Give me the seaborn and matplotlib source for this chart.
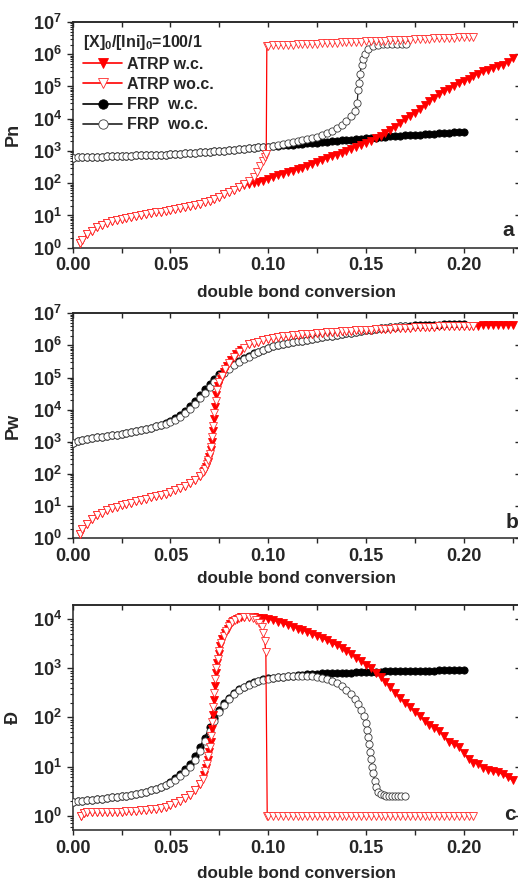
import numpy as np
import pandas as pd
import matplotlib
matplotlib.use("Agg")
import matplotlib.pyplot as plt
import seaborn as sns
from matplotlib.lines import Line2D
from matplotlib.ticker import (MultipleLocator, LogLocator, FuncFormatter,
                               NullFormatter, FixedLocator, NullLocator)

# ---------------- data (y values stored as log10) ----------------
conv = [0.0000, 0.0025, 0.0050, 0.0075, 0.0100, 0.0125, 0.0150, 0.0175, 0.0200, 0.0225,
        0.0250, 0.0275, 0.0300, 0.0325, 0.0350, 0.0375, 0.0400, 0.0425, 0.0450, 0.0475,
        0.0500, 0.0525, 0.0550, 0.0575, 0.0600, 0.0625, 0.0650, 0.0675, 0.0700, 0.0725,
        0.0750, 0.0775, 0.0800, 0.0825, 0.0850, 0.0875, 0.0900, 0.0925, 0.0950, 0.0975,
        0.1000, 0.1025, 0.1050, 0.1075, 0.1100, 0.1125, 0.1150, 0.1175, 0.1200, 0.1225,
        0.1250, 0.1275, 0.1300, 0.1325, 0.1350, 0.1375, 0.1400, 0.1425, 0.1450, 0.1475,
        0.1500, 0.1525, 0.1550, 0.1575, 0.1600, 0.1625, 0.1650, 0.1675, 0.1700, 0.1725,
        0.1750, 0.1775, 0.1800, 0.1825, 0.1850, 0.1875, 0.1900, 0.1925, 0.1950, 0.1975,
        0.2000, 0.2025, 0.2050, 0.2075, 0.2100, 0.2125, 0.2150, 0.2175, 0.2200, 0.2225,
        0.2250]

# ---- panel a : Pn ----
pn_frp_wc_log = [2.79, 2.80, 2.80, 2.81, 2.81, 2.82, 2.82, 2.83, 2.83, 2.84,
                 2.84, 2.85, 2.85, 2.86, 2.86, 2.87, 2.87, 2.88, 2.88, 2.89,
                 2.90, 2.91, 2.92, 2.93, 2.94, 2.95, 2.96, 2.97, 2.98, 2.99,
                 3.00, 3.01, 3.03, 3.04, 3.05, 3.07, 3.08, 3.09, 3.11, 3.12,
                 3.13, 3.15, 3.16, 3.17, 3.19, 3.20, 3.21, 3.22, 3.24, 3.25,
                 3.26, 3.28, 3.29, 3.30, 3.31, 3.33, 3.34, 3.35, 3.36, 3.38,
                 3.39, 3.40, 3.41, 3.43, 3.44, 3.45, 3.46, 3.47, 3.48, 3.49,
                 3.50, 3.51, 3.52, 3.53, 3.54, 3.55, 3.56, 3.57, 3.58, 3.59,
                 3.60]
pn_frp_woc_log = [2.79, 2.80, 2.80, 2.81, 2.81, 2.82, 2.82, 2.83, 2.83, 2.84,
                  2.84, 2.85, 2.85, 2.86, 2.86, 2.87, 2.87, 2.88, 2.88, 2.89,
                  2.90, 2.91, 2.92, 2.93, 2.94, 2.95, 2.96, 2.97, 2.98, 2.99,
                  3.00, 3.01, 3.03, 3.04, 3.05, 3.07, 3.08, 3.09, 3.11, 3.12,
                  3.13, 3.16, 3.18, 3.21, 3.24, 3.27, 3.30, 3.33, 3.36, 3.40,
                  3.44, 3.49, 3.55, 3.62, 3.70, 3.80, 3.92, 4.08]
pn_frp_woc_tail_x = [0.1445, 0.1455, 0.1460, 0.1464, 0.1469, 0.1478, 0.1487, 0.1496, 0.1512,
                     0.1535, 0.1560, 0.1585, 0.1610, 0.1635, 0.1660, 0.1685, 0.1705]
pn_frp_woc_tail_log = [4.25, 4.50, 4.88, 5.10, 5.40, 5.66, 5.86, 6.02, 6.16,
                       6.25, 6.29, 6.31, 6.32, 6.32, 6.33, 6.33, 6.33]
pn_atrp_woc_rise_x = [0.0037, 0.0050, 0.0075, 0.0100, 0.0125, 0.0150, 0.0175, 0.0200, 0.0225,
                      0.0250, 0.0275, 0.0300, 0.0325, 0.0350, 0.0375, 0.0400, 0.0425, 0.0450,
                      0.0475, 0.0500, 0.0525, 0.0550, 0.0575, 0.0600, 0.0625, 0.0650, 0.0675,
                      0.0700, 0.0725, 0.0750, 0.0775, 0.0800, 0.0825, 0.0850, 0.0875, 0.0900,
                      0.0925, 0.0945, 0.0960, 0.0972, 0.0982, 0.0990, 0.0993]
pn_atrp_woc_rise_log = [0.14, 0.25, 0.42, 0.53, 0.63, 0.71, 0.78, 0.83, 0.87,
                        0.90, 0.93, 0.96, 0.98, 1.01, 1.04, 1.07, 1.10, 1.12,
                        1.15, 1.17, 1.20, 1.23, 1.26, 1.29, 1.33, 1.37, 1.41,
                        1.46, 1.52, 1.58, 1.65, 1.72, 1.80, 1.88, 1.97, 2.07,
                        2.20, 2.35, 2.52, 2.68, 2.82, 2.92, 6.26]
pn_atrp_woc_plateau_log = [6.27, 6.28, 6.28, 6.29, 6.30, 6.30, 6.31, 6.31, 6.32, 6.33,
                           6.33, 6.34, 6.35, 6.35, 6.36, 6.37, 6.37, 6.38, 6.38, 6.39,
                           6.40, 6.40, 6.41, 6.42, 6.42, 6.43, 6.44, 6.44, 6.45, 6.45,
                           6.46, 6.47, 6.47, 6.48, 6.49, 6.49, 6.50, 6.51, 6.51, 6.52,
                           6.53, 6.53, 6.54]          # x = conv[40:83]
pn_atrp_wc_log = [0.14, 0.25, 0.42, 0.53, 0.63, 0.71, 0.78, 0.83, 0.87, 0.90,
                  0.93, 0.96, 0.98, 1.01, 1.04, 1.07, 1.10, 1.12, 1.15, 1.17,
                  1.20, 1.23, 1.26, 1.29, 1.33, 1.37, 1.41, 1.46, 1.52, 1.58,
                  1.65, 1.72, 1.80, 1.88,
                  1.93, 1.97, 2.00, 2.03, 2.08, 2.13, 2.19, 2.25, 2.29, 2.34,
                  2.38, 2.43, 2.48, 2.53, 2.59, 2.65, 2.71, 2.77, 2.83, 2.89,
                  2.95, 3.01, 3.07, 3.13, 3.19, 3.26, 3.32, 3.39, 3.47, 3.56,
                  3.66, 3.75, 3.86, 3.98, 4.09, 4.18, 4.31, 4.42, 4.55, 4.65,
                  4.77, 4.87, 4.92, 5.02, 5.10, 5.16, 5.24, 5.33, 5.40, 5.47,
                  5.52, 5.58, 5.64, 5.68, 5.76, 5.88]   # x = 0.0037, conv[2:91]

# ---- panel b : Pw ----
pw_frp_wc_log = [2.96, 3.02, 3.06, 3.09, 3.12, 3.14, 3.16, 3.18, 3.20, 3.22,
                 3.25, 3.27, 3.30, 3.33, 3.36, 3.40, 3.44, 3.49, 3.54, 3.60,
                 3.66, 3.74, 3.84, 3.97, 4.12, 4.28, 4.45, 4.63, 4.80, 4.96,
                 5.10, 5.22, 5.33, 5.43, 5.52, 5.60, 5.68, 5.75, 5.81, 5.87,
                 5.92, 5.97, 6.01, 6.04, 6.07, 6.10, 6.13, 6.15, 6.18, 6.20,
                 6.23, 6.25, 6.28, 6.30, 6.33, 6.35, 6.38, 6.40, 6.43, 6.45,
                 6.47, 6.49, 6.51, 6.53, 6.55, 6.56, 6.58, 6.60, 6.62, 6.62,
                 6.63, 6.63, 6.64, 6.64, 6.65, 6.65, 6.66, 6.66, 6.67, 6.67,
                 6.68]
pw_frp_woc_log = [2.96, 3.02, 3.06, 3.09, 3.12, 3.14, 3.16, 3.18, 3.20, 3.22,
                  3.25, 3.27, 3.30, 3.33, 3.36, 3.39, 3.43, 3.48, 3.52, 3.57,
                  3.62, 3.69, 3.78, 3.90, 4.03, 4.18, 4.35, 4.52, 4.70, 4.87,
                  5.02, 5.15, 5.27, 5.38, 5.48, 5.57, 5.65, 5.73, 5.80, 5.86,
                  5.92, 5.97, 6.01, 6.04, 6.07, 6.10, 6.13, 6.15, 6.18, 6.20,
                  6.23, 6.25, 6.28, 6.30, 6.33, 6.35, 6.38, 6.40, 6.43, 6.45,
                  6.47, 6.49, 6.51, 6.53, 6.55, 6.56, 6.58, 6.60, 6.62]
pw_atrp_head_log = [0.12, 0.28, 0.46, 0.60, 0.71, 0.80, 0.87, 0.93, 0.98, 1.03,
                    1.07, 1.11, 1.15, 1.19, 1.23, 1.27, 1.31, 1.35, 1.39, 1.44,
                    1.49, 1.55, 1.63, 1.72, 1.82, 1.95]      # x = 0.0037, conv[2:27]
pw_atrp_woc_steep_x = [0.0665, 0.0677, 0.0686, 0.0694, 0.0702, 0.0709, 0.0715, 0.0720, 0.0725,
                       0.0731, 0.0739, 0.0750, 0.0764, 0.0781, 0.0800, 0.0825, 0.0850, 0.0875]
pw_atrp_woc_steep_log = [2.05, 2.17, 2.30, 2.45, 2.62, 2.85, 3.15, 3.50, 3.90,
                         4.28, 4.62, 4.85, 5.05, 5.27, 5.45, 5.65, 5.80, 5.92]
pw_atrp_wc_steep_x = [0.0670, 0.0682, 0.0690, 0.0698, 0.0706, 0.0712, 0.0718, 0.0722, 0.0728,
                      0.0735, 0.0744, 0.0757, 0.0772, 0.0790, 0.0812, 0.0837, 0.0862]
pw_atrp_wc_steep_log = [2.10, 2.23, 2.37, 2.53, 2.74, 3.00, 3.33, 3.70, 4.10,
                        4.45, 4.74, 4.96, 5.16, 5.36, 5.55, 5.73, 5.86]
pw_atrp_woc_tail_log = [6.03, 6.08, 6.12, 6.16, 6.20, 6.23, 6.26, 6.28, 6.30, 6.32,
                        6.33, 6.35, 6.36, 6.37, 6.38, 6.40, 6.41, 6.42, 6.43, 6.44,
                        6.45, 6.46, 6.47, 6.48, 6.48, 6.49, 6.50, 6.51, 6.52, 6.52,
                        6.53, 6.54, 6.55, 6.55, 6.56, 6.57, 6.57, 6.58, 6.58, 6.59,
                        6.59, 6.60, 6.60, 6.61, 6.61, 6.62, 6.62]   # x = conv[36:83]
pw_atrp_wc_tail_log = [6.03, 6.08, 6.12, 6.16, 6.20, 6.23, 6.26, 6.28, 6.30, 6.32,
                       6.33, 6.35, 6.36, 6.37, 6.38, 6.40, 6.41, 6.42, 6.43, 6.44,
                       6.45, 6.46, 6.47, 6.48, 6.48, 6.49, 6.50, 6.51, 6.52, 6.52,
                       6.53, 6.54, 6.55, 6.55, 6.56, 6.57, 6.57, 6.58, 6.58, 6.59,
                       6.59, 6.60, 6.60, 6.61, 6.61, 6.62, 6.62, 6.62, 6.63, 6.63,
                       6.63, 6.64, 6.64, 6.64, 6.64]                # x = conv[36:91]

# ---- panel c : dispersity ----
d_frp_wc_log = [0.27, 0.29, 0.30, 0.31, 0.32, 0.33, 0.34, 0.35, 0.37, 0.38,
                0.40, 0.41, 0.43, 0.45, 0.47, 0.49, 0.52, 0.55, 0.59, 0.63,
                0.69, 0.76, 0.84, 0.94, 1.06, 1.21, 1.39, 1.59, 1.80, 1.98,
                2.15, 2.29, 2.40, 2.50, 2.57, 2.63, 2.68, 2.72, 2.75, 2.78,
                2.80, 2.81, 2.82, 2.83, 2.84, 2.85, 2.86, 2.87, 2.88, 2.885,
                2.89, 2.895, 2.90, 2.90, 2.905, 2.91, 2.91, 2.915, 2.92, 2.92,
                2.925, 2.93, 2.93, 2.935, 2.94, 2.94, 2.94, 2.945, 2.945, 2.95,
                2.95, 2.95, 2.955, 2.955, 2.955, 2.96, 2.96, 2.96, 2.96, 2.96,
                2.96]
d_frp_woc_log = [0.27, 0.29, 0.30, 0.31, 0.32, 0.33, 0.34, 0.35, 0.37, 0.38,
                 0.40, 0.41, 0.43, 0.45, 0.47, 0.49, 0.52, 0.55, 0.58, 0.62,
                 0.67, 0.73, 0.80, 0.89, 1.00, 1.14, 1.32, 1.52, 1.73, 1.93,
                 2.11, 2.26, 2.38, 2.48, 2.56, 2.62, 2.67, 2.71, 2.74, 2.77,
                 2.79, 2.81, 2.82, 2.83, 2.84, 2.84, 2.85, 2.85, 2.85, 2.84,
                 2.83, 2.81, 2.78, 2.74, 2.70, 2.64, 2.56, 2.47]
d_frp_woc_tail_x = [0.1445, 0.1460, 0.1475, 0.1488, 0.1498, 0.1506, 0.1513, 0.1518, 0.1522,
                    0.1527, 0.1532, 0.1538, 0.1545, 0.1553, 0.1562, 0.1575, 0.1590, 0.1605,
                    0.1620, 0.1635, 0.1650, 0.1665, 0.1680, 0.1700]
d_frp_woc_tail_log = [2.38, 2.27, 2.15, 2.02, 1.88, 1.75, 1.60, 1.45, 1.30,
                      1.15, 1.00, 0.86, 0.70, 0.58, 0.49, 0.44, 0.42, 0.41,
                      0.40, 0.40, 0.40, 0.40, 0.40, 0.39]
d_atrp_head_x = [0.0045, 0.0060]
d_atrp_head_log = [0.00, 0.06, 0.08, 0.08, 0.07, 0.07, 0.07, 0.07, 0.075, 0.08,
                   0.085, 0.09, 0.10, 0.11, 0.12, 0.13, 0.145, 0.16, 0.185, 0.21,
                   0.25, 0.30, 0.36, 0.43, 0.52, 0.64]      # x = head_x, conv[3:27]
d_atrp_woc_steep_x = [0.0665, 0.0677, 0.0686, 0.0694, 0.0702, 0.0708, 0.0714, 0.0719, 0.0724,
                      0.0729, 0.0735, 0.0742, 0.0750, 0.0760, 0.0772, 0.0785, 0.0800, 0.0815,
                      0.0830, 0.0850, 0.0875, 0.0900, 0.0920, 0.0940, 0.0955, 0.0967, 0.0975,
                      0.0982, 0.0988, 0.0995]
d_atrp_woc_steep_log = [0.75, 0.90, 1.05, 1.21, 1.40, 1.62, 1.90, 2.22, 2.50,
                        2.78, 3.00, 3.20, 3.36, 3.52, 3.65, 3.76, 3.86, 3.94,
                        3.99, 4.03, 4.05, 4.05, 4.03, 3.99, 3.93, 3.85, 3.72,
                        3.55, 3.33, 0.00]
d_atrp_woc_plateau_log = [0.00, 0.00, 0.00, 0.00, 0.00, 0.00, 0.00, 0.00, 0.00, 0.00,
                          0.00, 0.00, 0.00, 0.00, 0.00, 0.00, 0.00, 0.00, 0.00, 0.00,
                          0.00, 0.00, 0.00, 0.00, 0.00, 0.00, 0.00, 0.00, 0.00, 0.00,
                          0.00, 0.00, 0.00, 0.00, 0.00, 0.00, 0.00, 0.00, 0.00, 0.00,
                          0.00, 0.00, 0.00]          # x = conv[40:83]
d_atrp_wc_steep_x = [0.0670, 0.0682, 0.0690, 0.0698, 0.0705, 0.0711, 0.0717, 0.0722, 0.0727,
                     0.0732, 0.0738, 0.0746, 0.0755, 0.0766, 0.0778, 0.0792, 0.0807, 0.0822,
                     0.0840, 0.0862]
d_atrp_wc_steep_log = [0.82, 0.98, 1.13, 1.30, 1.50, 1.76, 2.05, 2.36, 2.65,
                       2.90, 3.10, 3.29, 3.45, 3.59, 3.71, 3.81, 3.90, 3.97,
                       4.01, 4.04]
d_atrp_wc_tail_log = [4.05, 4.05, 4.04, 4.03, 4.02, 4.00, 3.98, 3.95, 3.92, 3.88,
                      3.85, 3.81, 3.78, 3.74, 3.70, 3.66, 3.62, 3.57, 3.52, 3.47,
                      3.42, 3.36, 3.30, 3.22, 3.15, 3.07, 3.00, 2.90, 2.82, 2.73,
                      2.62, 2.50, 2.40, 2.30, 2.22, 2.12, 2.03, 1.92, 1.85, 1.78,
                      1.72, 1.62, 1.50, 1.45, 1.40, 1.28, 1.15, 1.08, 1.05, 0.98,
                      0.93, 0.90, 0.88, 0.84, 0.78, 0.72]   # x = conv[35:91]

labels = ["ATRP w.c.", "ATRP wo.c.", "FRP  w.c.", "FRP  wo.c."]
legend_title = r"$\mathbf{[X]_0/[Ini]_0}$=100/1"

# ---------------- assemble series ----------------
def series(xs, ls):
    xs = list(xs); ls = list(ls)
    assert len(xs) == len(ls), (len(xs), len(ls))
    return pd.DataFrame({"x": xs, "y": np.power(10.0, np.asarray(ls, dtype=float))})

panel_a = {
    "FRP w.c.": series(conv[0:81], pn_frp_wc_log),
    "FRP wo.c.": series(conv[0:58] + pn_frp_woc_tail_x, pn_frp_woc_log + pn_frp_woc_tail_log),
    "ATRP w.c.": series([0.0037] + conv[2:91], pn_atrp_wc_log),
    "ATRP wo.c.": series(pn_atrp_woc_rise_x + conv[40:83], pn_atrp_woc_rise_log + pn_atrp_woc_plateau_log),
}
panel_b = {
    "FRP w.c.": series(conv[0:81], pw_frp_wc_log),
    "FRP wo.c.": series(conv[0:69], pw_frp_woc_log),
    "ATRP w.c.": series([0.0037] + conv[2:27] + pw_atrp_wc_steep_x + conv[36:91],
                        pw_atrp_head_log + pw_atrp_wc_steep_log + pw_atrp_wc_tail_log),
    "ATRP wo.c.": series([0.0037] + conv[2:27] + pw_atrp_woc_steep_x + conv[36:83],
                         pw_atrp_head_log + pw_atrp_woc_steep_log + pw_atrp_woc_tail_log),
}
panel_c = {
    "FRP w.c.": series(conv[0:81], d_frp_wc_log),
    "FRP wo.c.": series(conv[0:58] + d_frp_woc_tail_x, d_frp_woc_log + d_frp_woc_tail_log),
    "ATRP w.c.": series(d_atrp_head_x + conv[3:27] + d_atrp_wc_steep_x + conv[35:91],
                        d_atrp_head_log + d_atrp_wc_steep_log + d_atrp_wc_tail_log),
    "ATRP wo.c.": series(d_atrp_head_x + conv[3:27] + d_atrp_woc_steep_x + conv[40:83],
                         d_atrp_head_log + d_atrp_woc_steep_log + d_atrp_woc_plateau_log),
}

# ---------------- style ----------------
sns.set_style("ticks")
plt.rcParams["font.family"] = ["Liberation Sans", "DejaVu Sans"]
plt.rcParams["font.weight"] = "bold"
plt.rcParams["axes.labelweight"] = "bold"
plt.rcParams["mathtext.fontset"] = "custom"
plt.rcParams["mathtext.bf"] = "Liberation Sans:bold"
plt.rcParams["mathtext.rm"] = "Liberation Sans:bold"
plt.rcParams["mathtext.it"] = "Liberation Sans:bold"
plt.rcParams["axes.linewidth"] = 1.1

STY = {
    "FRP w.c.": dict(color="black", marker="o", markersize=5.2, markerfacecolor="black",
                     markeredgecolor="black", markeredgewidth=0.6, linewidth=0.9),
    "FRP wo.c.": dict(color="#222222", marker="o", markersize=5.2, markerfacecolor="white",
                      markeredgecolor="#3a3a3a", markeredgewidth=0.6, linewidth=0.9),
    "ATRP w.c.": dict(color="#ff0000", marker="v", markersize=6.0, markerfacecolor="#ff0000",
                      markeredgecolor="#ff0000", markeredgewidth=0.6, linewidth=0.9),
    "ATRP wo.c.": dict(color="#ff0000", marker="v", markersize=6.0, markerfacecolor="white",
                       markeredgecolor="#ff2a2a", markeredgewidth=0.6, linewidth=0.9),
}
ORDER = [("FRP w.c.", 2), ("FRP wo.c.", 3), ("ATRP w.c.", 4), ("ATRP wo.c.", 5)]

W, H = 518, 882
fig = plt.figure(figsize=(W / 100, H / 100), dpi=100)
left = 72.7 / W
width = (520 - 72.7) / W
ax_a = fig.add_axes([left, 1 - 247.7 / H, width, 225.7 / H])
ax_b = fig.add_axes([left, 1 - 538.3 / H, width, 225.0 / H])
ax_c = fig.add_axes([left, 1 - 830.0 / H, width, 225.0 / H])

def logfmt(v, p):
    return r"$\mathbf{10^{%d}}$" % int(round(np.log10(v)))

def style_axes(ax, ylim, decs, ylabel, letter, letter_xy, xlab_base):
    ax.set_yscale("log")
    ax.set_xlim(0, 0.2288)
    ax.set_ylim(*ylim)
    ax.xaxis.set_major_locator(MultipleLocator(0.05))
    ax.xaxis.set_minor_locator(MultipleLocator(0.025))
    ax.xaxis.set_major_formatter(FuncFormatter(lambda v, p: f"{v:.2f}"))
    ax.yaxis.set_major_locator(FixedLocator([10.0 ** d for d in decs]))
    ax.yaxis.set_minor_locator(LogLocator(base=10, subs=np.arange(2, 10) * 1.0, numticks=40))
    ax.yaxis.set_minor_formatter(NullFormatter())
    ax.yaxis.set_major_formatter(FuncFormatter(logfmt))
    ax.tick_params(axis="x", which="both", direction="out", length=3.3, width=1.0,
                   pad=3.6, labelsize=13, top=False, bottom=True)
    ax.tick_params(axis="y", which="major", direction="out", length=4.4, width=1.0,
                   pad=3.5, labelsize=13, left=True, right=False)
    ax.tick_params(axis="y", which="minor", direction="out", length=2.4, width=0.8,
                   left=True, right=False)
    top = ax.secondary_xaxis("top")
    top.xaxis.set_major_locator(MultipleLocator(0.025))
    top.xaxis.set_major_formatter(NullFormatter())
    top.tick_params(direction="in", length=3.5, width=1.0, labeltop=False)
    right = ax.secondary_yaxis("right")
    right.yaxis.set_major_locator(FixedLocator([10.0 ** d for d in decs]))
    right.yaxis.set_minor_locator(NullLocator())
    right.yaxis.set_major_formatter(NullFormatter())
    right.tick_params(direction="in", length=3.5, width=1.0, labelright=False)
    ax.set_xlabel("double bond conversion", fontsize=12.3, fontweight="bold", va="baseline")
    ax.xaxis.set_label_coords(0.5, -xlab_base / (ax.bbox.height))
    ax.set_ylabel(ylabel, fontsize=13, fontweight="bold")
    ax.yaxis.set_label_coords(-0.113, 0.5)
    ax.text(letter_xy[0], letter_xy[1], letter, transform=ax.transAxes, fontsize=15,
            fontweight="bold", ha="center", va="center")

for ax, data in [(ax_a, panel_a), (ax_b, panel_b), (ax_c, panel_c)]:
    ax.set_yscale("log")
    for name, z in ORDER:
        df = data[name]
        sns.lineplot(data=df, x="x", y="y", ax=ax, sort=False, estimator=None,
                     legend=False, zorder=z, **STY[name])

style_axes(ax_a, (1, 1e7), range(0, 8), "Pn", "a", (0.973, 0.074), 49)
style_axes(ax_b, (1, 1e7), range(0, 8), "Pw", "b", (0.982, 0.068), 45)
style_axes(ax_c, (0.51, 1.95e4), range(0, 5), "Đ", "c", (0.978, 0.067), 48)

handles = []
for name in ["ATRP w.c.", "ATRP wo.c.", "FRP w.c.", "FRP wo.c."]:
    s = dict(STY[name]); s["markersize"] = s["markersize"] * 1.3; s["linewidth"] = 1.2
    handles.append(Line2D([0], [0], **s))
leg = ax_a.legend(handles, labels, title=legend_title, loc="upper left",
                  bbox_to_anchor=(0.022, 0.952), frameon=False, borderpad=0,
                  borderaxespad=0, handlelength=2.5, handletextpad=0.3, labelspacing=0.32,
                  prop=dict(weight="bold", size=11.5),
                  title_fontproperties=dict(weight="bold", size=11.5), alignment="left")
leg.set_zorder(10)

fig.savefig("out.png", dpi=100)
